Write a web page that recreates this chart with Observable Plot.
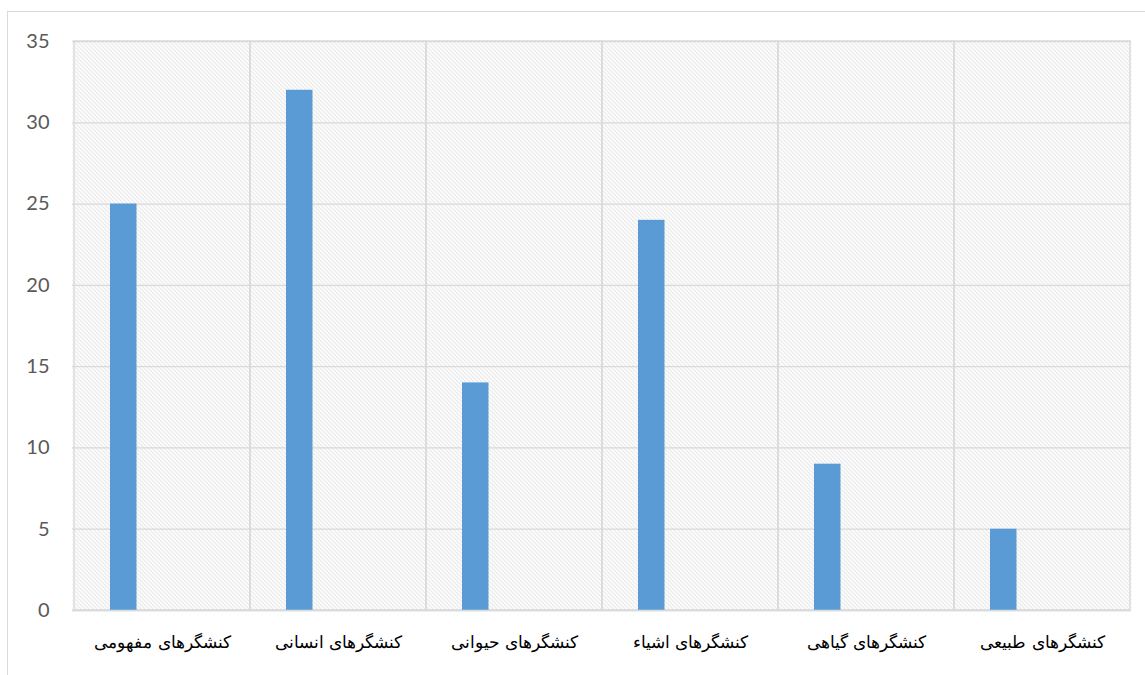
<!DOCTYPE html>
<html>
<head>
<meta charset="utf-8">
<script src="https://cdn.jsdelivr.net/npm/d3@7"></script>
<script src="https://cdn.jsdelivr.net/npm/@observablehq/plot@0.6"></script>
<style>
  html, body { margin: 0; padding: 0; background: #fff; overflow: hidden; }
  #wrap { position: relative; width: 1145px; height: 675px; }
  #border { position: absolute; left: 7px; top: 11px; width: 1200px; height: 700px; border: 1.5px solid #d9d9d9; box-sizing: border-box; }
  #chart { position: absolute; left: 0; top: 0; }
</style>
</head>
<body>
<div id="wrap"><div id="border"></div><div id="chart"></div></div>
<script>
const categories = ["کنشگرهای مفهومی", "کنشگرهای انسانی", "کنشگرهای حیوانی", "کنشگرهای اشیاء", "کنشگرهای گیاهی", "کنشگرهای طبیعی"];
const values = [25, 32, 14, 24, 9, 5];
const yTicks = [0, 5, 10, 15, 20, 25, 30, 35];

const data = categories.map((c, i) => ({category: c, value: values[i]}));
const yMax = d3.max(yTicks);

const plot = Plot.plot({
  width: 1145,
  height: 675,
  marginLeft: 72,
  marginRight: 14,
  marginTop: 41,
  marginBottom: 65,
  style: {background: "transparent", overflow: "visible"},
  x: {domain: categories, padding: 0, label: null},
  y: {domain: [0, yMax], label: null},
  marks: [
    Plot.frame({fill: "url(#hatch)", stroke: null}),
    Plot.ruleY(yTicks, {stroke: "#d9d9d9", strokeWidth: 1.3, strokeOpacity: 1}),
    Plot.barY(categories, {x: d => d, y: () => yMax, fill: "none", stroke: "#d9d9d9", strokeWidth: 1.3}),
    Plot.barY(data, {x: "category", y: "value", fill: "#5B9BD5", insetLeft: 36, insetRight: 113.5}),
    Plot.ruleY([0], {stroke: "#d9d9d9", strokeWidth: 1.5}),
    Plot.axisY({ticks: yTicks, tickSize: 0, tickPadding: 23, fontSize: 20, fill: "#595959", fontFamily: "Lato, 'Open Sans', sans-serif", label: null}),
    Plot.axisX({tickSize: 0, tickPadding: 25, fontSize: 17, fill: "#000", fontFamily: "'DejaVu Serif', 'Liberation Serif', serif", label: null})
  ]
});

const svg = d3.select(plot);
const defs = svg.insert("defs", ":first-child");
const pat = defs.append("pattern")
  .attr("id", "hatch")
  .attr("patternUnits", "userSpaceOnUse")
  .attr("width", 4).attr("height", 4);
pat.append("rect").attr("width", 4).attr("height", 4).attr("fill", "#fff");
for (let i = 0; i < 4; i++) {
  pat.append("rect").attr("x", i).attr("y", i).attr("width", 1).attr("height", 1)
    .attr("fill", "#d6d6d6").attr("shape-rendering", "crispEdges");
}

document.getElementById("chart").appendChild(plot);
</script>
</body>
</html>
